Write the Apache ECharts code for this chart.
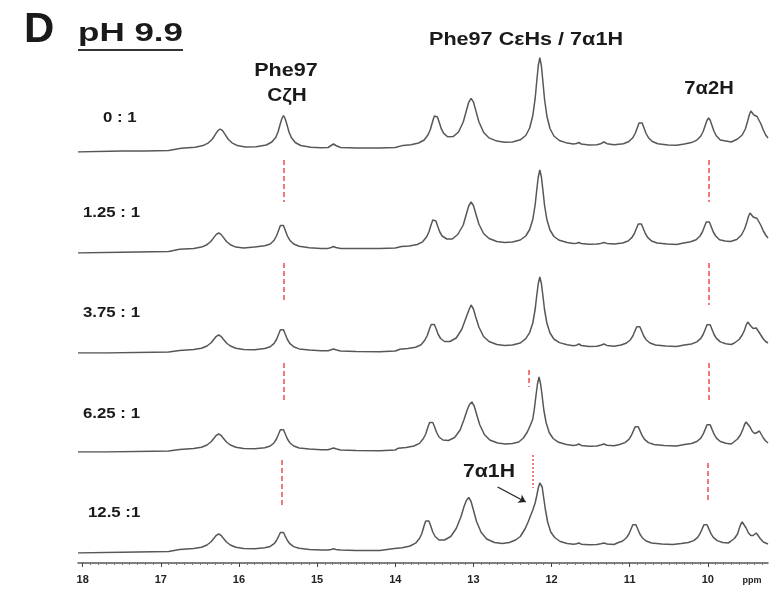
<!DOCTYPE html>
<html>
<head>
<meta charset="utf-8">
<script src="https://cdn.jsdelivr.net/npm/echarts@6/dist/echarts.min.js"></script>
<style>
html, body { margin: 0; background: #fff; }
#chart { width: 778px; height: 593px; }
</style>
</head>
<body>
<div id="chart"></div>
<script>
// [ppm, intensity] (intensity in px above the trace's left baseline)
let trace1 = [[18.06,0],[17.8,0.5],[17.5,1],[17.2,1],[16.9,1.5],[16.74,3.8],[16.56,4.8],[16.46,6.4],[16.39,9.2],[16.34,13],[16.3,17.8],[16.27,21.4],[16.24,23],[16.21,21.4],[16.18,17.8],[16.14,13],[16.09,9.2],[16.02,6.4],[15.92,5],[15.78,5.3],[15.65,7],[15.58,10],[15.53,14.5],[15.5,20],[15.47,28.5],[15.45,33.5],[15.43,36.5],[15.41,33.5],[15.39,28.5],[15.36,20],[15.33,14.5],[15.28,9.5],[15.21,6.5],[15.08,4.8],[14.95,4.3],[14.86,4.5],[14.82,6.5],[14.79,8],[14.76,6.5],[14.7,4.5],[14.5,4],[14.2,4],[14.0,4.5],[13.9,6.6],[13.8,7.3],[13.7,9],[13.63,12],[13.58,17.3],[13.55,22.8],[13.52,31],[13.5,36],[13.48,37.2],[13.46,35],[13.44,30.2],[13.41,23.1],[13.38,18.6],[13.33,15.2],[13.26,15.4],[13.19,20],[13.13,30],[13.09,41.3],[13.06,49.7],[13.03,53.7],[13.0,50.2],[12.97,41.6],[12.93,30.2],[12.87,19.7],[12.8,14.1],[12.7,10.9],[12.6,9.7],[12.5,10],[12.4,12.2],[12.33,16.5],[12.28,24],[12.24,36.3],[12.21,53.3],[12.19,70.3],[12.17,86.3],[12.15,94.3],[12.13,86],[12.11,70],[12.09,53],[12.06,36],[12.02,23.5],[11.97,16],[11.9,11.5],[11.8,8.9],[11.72,7.9],[11.68,8.5],[11.65,9.5],[11.62,8],[11.52,7],[11.42,7.2],[11.37,8.3],[11.33,10],[11.29,8.3],[11.2,7.3],[11.08,8.3],[11.01,10.5],[10.96,14.3],[10.93,18.5],[10.9,24.8],[10.88,29],[10.86,31],[10.84,29],[10.82,24.8],[10.79,18.5],[10.76,14.3],[10.71,10.5],[10.64,8.3],[10.51,7],[10.4,6.8],[10.3,8.1],[10.21,9.4],[10.14,11.9],[10.09,16],[10.06,20.5],[10.03,27.3],[10.01,31.8],[9.99,34],[9.97,31.8],[9.95,27.3],[9.92,20.5],[9.89,16],[9.84,11.9],[9.77,11],[9.7,10],[9.62,13],[9.56,17],[9.52,23],[9.49,31],[9.47,37],[9.45,41],[9.43,40],[9.41,37],[9.39,35],[9.37,35.5],[9.35,34],[9.32,28],[9.29,22],[9.26,17],[9.23,14]];

let trace2 = [[18.06,0],[17.7,0.5],[17.3,1],[16.9,1.5],[16.76,3.7],[16.58,4.5],[16.48,5.9],[16.41,8.3],[16.36,11.5],[16.32,15.6],[16.29,18.6],[16.26,20],[16.23,18.6],[16.2,15.6],[16.16,11.5],[16.11,8.3],[16.04,5.9],[15.94,5],[15.8,5.9],[15.67,7.2],[15.6,9],[15.55,12.8],[15.52,17],[15.49,23.3],[15.47,27.5],[15.45,29.5],[15.43,27.5],[15.41,23.3],[15.38,17],[15.35,12.8],[15.3,9],[15.23,6.8],[15.1,5.3],[14.95,4.6],[14.86,4.6],[14.82,5.5],[14.79,6.5],[14.76,5.5],[14.7,4.6],[14.5,4.5],[14.2,4.5],[14.0,5],[13.92,6.4],[13.82,7],[13.72,8.5],[13.65,11.2],[13.6,16],[13.57,21],[13.54,28.5],[13.52,33],[13.5,34],[13.48,32],[13.46,27.5],[13.43,21],[13.4,17],[13.34,14],[13.27,14],[13.2,18.5],[13.13,28],[13.09,39],[13.06,47],[13.03,51],[13.0,47.5],[12.97,39.5],[12.93,29],[12.87,19.5],[12.8,14.5],[12.7,11.5],[12.6,10.5],[12.5,11],[12.4,13],[12.33,17],[12.28,23.5],[12.24,33.5],[12.21,48],[12.19,62.5],[12.17,76],[12.15,83],[12.13,76],[12.11,62.5],[12.09,48],[12.06,33.5],[12.02,23],[11.97,16.5],[11.9,12.7],[11.8,10.5],[11.72,9.5],[11.68,9.7],[11.65,10.5],[11.62,9.5],[11.52,8.8],[11.42,9],[11.37,9.6],[11.33,10.5],[11.29,9.6],[11.2,9],[11.09,10],[11.02,12],[10.97,15.6],[10.94,19.5],[10.91,25.2],[10.89,29],[10.87,31],[10.85,29],[10.83,25.2],[10.8,19.5],[10.77,15.6],[10.72,12],[10.65,10],[10.52,9],[10.4,8.5],[10.31,10],[10.22,11.2],[10.15,13.3],[10.1,17],[10.07,21],[10.04,27],[10.02,31],[10.0,33],[9.98,31],[9.96,27],[9.93,21],[9.9,17],[9.85,13.3],[9.78,12],[9.71,11.5],[9.63,13.5],[9.57,18],[9.53,24],[9.5,31],[9.48,36.5],[9.46,40],[9.44,39],[9.42,36],[9.4,34],[9.37,34.5],[9.35,33],[9.32,27.5],[9.29,22],[9.26,18],[9.23,15]];

let trace3 = [[18.06,0],[17.7,0],[17.3,0.5],[16.9,1],[16.76,2.6],[16.58,3.4],[16.48,4.7],[16.41,7],[16.36,10],[16.32,13.8],[16.29,16.7],[16.26,18],[16.23,16.7],[16.2,13.8],[16.16,10],[16.11,7],[16.04,4.7],[15.94,3.5],[15.8,3.3],[15.67,4.5],[15.6,6.2],[15.55,9.6],[15.52,13.5],[15.49,19.2],[15.47,23.2],[15.45,25],[15.43,23.2],[15.41,19.2],[15.38,13.5],[15.35,9.6],[15.3,6.2],[15.23,4.1],[15.1,2.9],[14.95,2.2],[14.86,2.2],[14.82,3.2],[14.79,4],[14.76,3.2],[14.7,2],[14.5,1.5],[14.2,1.2],[14.0,2],[13.94,3.8],[13.84,4.4],[13.74,5.8],[13.67,8.3],[13.62,13],[13.59,17.5],[13.56,24.5],[13.54,28.5],[13.52,30],[13.5,28.5],[13.48,24.8],[13.45,18.5],[13.42,14.5],[13.37,11.5],[13.3,11.5],[13.22,15],[13.15,23.5],[13.1,34],[13.06,42.5],[13.03,48],[13.0,44],[12.97,36],[12.93,26],[12.87,16.5],[12.8,11.5],[12.7,8.5],[12.6,7.5],[12.5,8],[12.4,10],[12.33,14.4],[12.28,20.4],[12.24,30],[12.21,43.5],[12.19,57],[12.17,69.5],[12.15,76],[12.13,69.5],[12.11,57],[12.09,43.5],[12.06,30],[12.02,20],[11.97,14],[11.9,10.4],[11.8,8.3],[11.72,7.2],[11.68,7.8],[11.65,9],[11.62,7.5],[11.52,6.5],[11.42,6.7],[11.37,7.8],[11.33,9],[11.29,7.6],[11.2,6.8],[11.11,8],[11.04,10],[10.99,13.3],[10.96,17],[10.93,22.5],[10.91,26.2],[10.89,28],[10.87,26.2],[10.85,22.5],[10.82,17],[10.79,13.3],[10.74,10],[10.67,8],[10.54,6.9],[10.4,6.5],[10.3,8],[10.21,9],[10.14,11.1],[10.09,14.6],[10.06,18.5],[10.03,24.3],[10.01,28.2],[9.99,30],[9.97,28.2],[9.95,24.3],[9.92,18.5],[9.89,14.6],[9.84,11.1],[9.77,9.3],[9.7,8.5],[9.66,10],[9.6,13.5],[9.56,18],[9.53,23],[9.51,28],[9.49,31],[9.47,30],[9.45,27],[9.42,24.5],[9.4,24.5],[9.38,25],[9.36,23.5],[9.33,19],[9.29,14],[9.26,11.5],[9.23,10]];

let trace4 = [[18.06,0],[17.7,0],[17.3,0.5],[16.9,1],[16.76,2.6],[16.58,3.4],[16.48,4.7],[16.41,7],[16.36,10],[16.32,13.8],[16.29,16.7],[16.26,18],[16.23,16.7],[16.2,13.8],[16.16,10],[16.11,7],[16.04,4.7],[15.94,3.5],[15.8,3.2],[15.67,4.3],[15.6,6],[15.55,9.3],[15.52,13],[15.49,18.5],[15.47,22.2],[15.45,24],[15.43,22.2],[15.41,18.5],[15.38,13],[15.35,9.3],[15.3,6],[15.23,4],[15.1,2.9],[14.95,2.2],[14.86,2.2],[14.82,3.2],[14.79,4],[14.76,3.2],[14.7,2],[14.5,1.5],[14.2,1.2],[14.0,2],[13.96,3.8],[13.86,4.5],[13.76,6],[13.69,8.6],[13.64,13.5],[13.61,18],[13.58,25.5],[13.56,29.5],[13.54,31],[13.52,29.5],[13.5,25.8],[13.47,19.5],[13.44,15],[13.39,12],[13.32,11.5],[13.24,14.5],[13.17,22],[13.12,32.5],[13.08,42],[13.05,47.5],[13.02,50],[12.99,46],[12.96,38],[12.92,27.5],[12.86,17.5],[12.79,12],[12.69,9],[12.59,8],[12.5,8.5],[12.42,10],[12.36,14],[12.31,20],[12.27,27],[12.24,33],[12.22,43],[12.2,56],[12.18,68],[12.16,75],[12.14,68],[12.12,56],[12.1,42.5],[12.07,29.5],[12.03,19.5],[11.98,13.5],[11.91,9.7],[11.81,7.5],[11.72,6.5],[11.68,7],[11.65,8],[11.62,6.6],[11.52,5.8],[11.42,6],[11.37,7],[11.33,8],[11.29,6.8],[11.2,6.2],[11.13,7.5],[11.06,9.4],[11.01,12.6],[10.98,16.3],[10.95,21.6],[10.93,25.3],[10.91,27],[10.89,25.3],[10.87,21.6],[10.84,16.3],[10.81,12.6],[10.76,9.4],[10.69,7.5],[10.56,6.4],[10.4,6],[10.3,7.5],[10.21,8.5],[10.14,10.5],[10.09,13.9],[10.06,17.8],[10.03,23.4],[10.01,27.2],[9.99,29],[9.97,27.2],[9.95,23.4],[9.92,17.8],[9.89,13.9],[9.84,10.5],[9.77,8.7],[9.7,8],[9.68,9.5],[9.62,13],[9.58,17.5],[9.55,23],[9.53,27.5],[9.51,30],[9.49,29],[9.46,25],[9.43,20.5],[9.4,18.5],[9.37,19.5],[9.34,21],[9.32,19],[9.29,14],[9.26,11],[9.23,9]];

let trace5 = [[18.06,0],[17.7,0.5],[17.3,1],[16.9,1.5],[16.76,3.6],[16.58,4.4],[16.48,5.7],[16.41,8],[16.36,11],[16.32,14.8],[16.29,17.7],[16.26,19],[16.23,17.7],[16.2,14.8],[16.16,11],[16.11,8],[16.04,5.7],[15.94,4.4],[15.8,4.3],[15.67,5.2],[15.6,6.6],[15.55,9.3],[15.52,12.5],[15.49,17.2],[15.47,20.5],[15.45,22],[15.43,20.5],[15.41,17.2],[15.38,12.5],[15.35,9.3],[15.3,6.4],[15.23,4.7],[15.1,3.6],[14.95,3.1],[14.86,3],[14.82,3.6],[14.79,4.2],[14.76,3.6],[14.7,3],[14.5,2.5],[14.2,2.5],[14.01,4.5],[13.91,5.2],[13.81,7],[13.74,9.8],[13.69,14.5],[13.66,19.5],[13.63,27.5],[13.61,32],[13.59,33.5],[13.57,32],[13.55,28],[13.52,21],[13.49,16.5],[13.44,13],[13.37,13],[13.29,16.5],[13.22,24.5],[13.16,36],[13.12,46.5],[13.09,52.5],[13.06,55.5],[13.03,51.5],[13.0,43],[12.96,31.5],[12.9,20.5],[12.83,14],[12.73,10.5],[12.63,9.5],[12.54,10.5],[12.46,13],[12.4,16.5],[12.34,24],[12.3,31],[12.27,37],[12.24,43],[12.21,50],[12.19,57],[12.17,65],[12.15,70],[12.14,71],[12.12,66],[12.1,55],[12.08,44],[12.05,31],[12.01,21],[11.96,15.5],[11.89,11.5],[11.8,9.5],[11.72,8.7],[11.68,9.2],[11.65,10],[11.62,8.8],[11.52,8.2],[11.42,8.4],[11.37,9.2],[11.33,10],[11.29,9],[11.2,8.5],[11.16,10],[11.09,12],[11.04,15.3],[11.01,19],[10.98,24.5],[10.96,28.2],[10.94,30],[10.92,28.2],[10.9,24.5],[10.87,19],[10.84,15.3],[10.79,12],[10.72,10],[10.59,9],[10.45,8.5],[10.34,9.5],[10.25,10.5],[10.18,12.4],[10.13,15.6],[10.1,19.3],[10.07,24.6],[10.05,28.3],[10.03,30],[10.01,28.3],[9.99,24.6],[9.96,19.3],[9.93,15.6],[9.88,12.4],[9.81,10.5],[9.74,10],[9.71,11.5],[9.66,14.5],[9.62,19],[9.6,24],[9.58,28.5],[9.56,31],[9.54,29.5],[9.51,25],[9.48,20],[9.45,17.5],[9.42,17.5],[9.4,19],[9.38,20],[9.36,18.5],[9.33,14.5],[9.29,11],[9.23,9]];

let traces = [trace1, trace2, trace3, trace4, trace5];
let ratios = ['0 : 1', '1.25 : 1', '3.75 : 1', '6.25 : 1', '12.5 :1'];
let ppmTicks = [18, 17, 16, 15, 14, 13, 12, 11, 10];

// red dashed markers per trace: [ppm, from, to]
let marks = [
    [],
    [[15.43, 93, 51], [9.99, 93, 51]],
    [[15.43, 90, 51], [9.99, 90, 48]],
    [[15.43, 89, 50], [12.29, 82, 65], [9.99, 89, 49]],
    [[15.45, 93, 48], [12.24, 98, 65], [10.0, 90, 51]]
];

// layout
let baseY = [152, 253, 353, 452, 553];
let labelY = [118, 213, 313, 414, 513];
let labelX = [103, 83, 83, 83, 88];
let FONT = '"Liberation Sans", Arial, sans-serif';

let minorTicks = [];
for (let i = 93; i <= 180; i++) minorTicks.push(i / 10);

let myChart = echarts.init(document.getElementById('chart'));

let grids = [], xAxes = [], yAxes = [], series = [];

traces.forEach(function (data, i) {
    grids.push({ left: 78, right: 10, top: baseY[i] - 100, height: 100 });
    xAxes.push({
        type: 'value', gridIndex: i, inverse: true, min: 9.23, max: 18.06,
        show: false
    });
    yAxes.push({ type: 'value', gridIndex: i, min: 0, max: 100, show: false });

    let mlData = marks[i].map(function (m) {
        let dotted = (i === 4 && m[1] - m[2] < 36);
        return [
            { coord: [m[0], m[1]], lineStyle: { type: dotted ? [2, 2] : [5, 3] } },
            { coord: [m[0], m[2]] }
        ];
    });
    if (i === 4) {
        mlData.push([
            { coord: [12.69, 66], symbol: 'none', lineStyle: { color: '#222', width: 1.3, type: 'solid' } },
            { coord: [12.33, 51], symbol: 'arrow', symbolSize: 7 }
        ]);
    }

    series.push({
        type: 'line',
        xAxisIndex: i,
        yAxisIndex: i,
        data: data,
        symbol: 'none',
        lineStyle: { color: '#575757', width: 1.5 },
        animation: false,
        markLine: {
            silent: true,
            animation: false,
            symbol: ['none', 'none'],
            label: { show: false },
            lineStyle: { color: '#f07a7a', width: 2, type: [5, 3] },
            data: mlData
        }
    });
});

// bottom ppm axis (major + minor ticks) under the last trace
xAxes.push({
    type: 'value', gridIndex: 4, inverse: true, min: 9.23, max: 18.06,
    position: 'bottom', offset: 10,
    axisLine: { show: true, lineStyle: { color: '#555', width: 1.5 } },
    axisTick: { show: true, customValues: minorTicks, length: 2, lineStyle: { color: '#777' } },
    axisLabel: { show: false },
    splitLine: { show: false }
});
xAxes.push({
    type: 'value', gridIndex: 4, inverse: true, min: 9.23, max: 18.06,
    position: 'bottom', offset: 10,
    axisLine: { show: false },
    axisTick: { show: true, customValues: ppmTicks, length: 4, lineStyle: { color: '#444' } },
    axisLabel: {
        show: true, customValues: ppmTicks, margin: 11,
        color: '#222', fontSize: 11, fontWeight: 'bold', fontFamily: FONT
    },
    splitLine: { show: false }
});

// text drawn a little wider than the font, like the scanned figure
function txt(text, x, y, size, align, sx) {
    return {
        type: 'text', silent: true,
        x: x, y: y, scaleX: sx || 1,
        style: {
            text: text, x: 0, y: 0,
            font: 'bold ' + size + 'px ' + FONT,
            fill: '#1a1a1a',
            textAlign: align || 'center', align: align || 'center',
            textVerticalAlign: 'middle', verticalAlign: 'middle'
        }
    };
}

let graphics = [
    txt('D', 24, 30, 42, 'left', 1),
    txt('pH 9.9', 78, 34, 25, 'left', 1.4),
    { type: 'line', silent: true, shape: { x1: 78, y1: 50, x2: 183, y2: 50 }, style: { stroke: '#333', lineWidth: 2 } },
    txt('Phe97', 286, 71, 18, 'center', 1.2),
    txt('C\u03B6H', 287, 96, 18, 'center', 1.15),
    txt('Phe97 C\u03B5Hs / 7\u03B11H', 526, 40, 18, 'center', 1.2),
    txt('7\u03B12H', 709, 89, 18, 'center', 1.12),
    txt('7\u03B11H', 489, 472, 18, 'center', 1.18),
    { type: 'text', silent: true, style: { text: 'ppm', x: 752, y: 581, font: 'bold 9px ' + FONT, fill: '#222', textAlign: 'center', align: 'center', textVerticalAlign: 'middle', verticalAlign: 'middle' } }
];
ratios.forEach(function (r, i) {
    graphics.push(txt(r, labelX[i], labelY[i], 14, 'left', 1.2));
});

let option = {
    backgroundColor: '#fff',
    animation: false,
    grid: grids,
    xAxis: xAxes,
    yAxis: yAxes,
    series: series,
    graphic: graphics
};

myChart.setOption(option);
</script>
</body>
</html>
